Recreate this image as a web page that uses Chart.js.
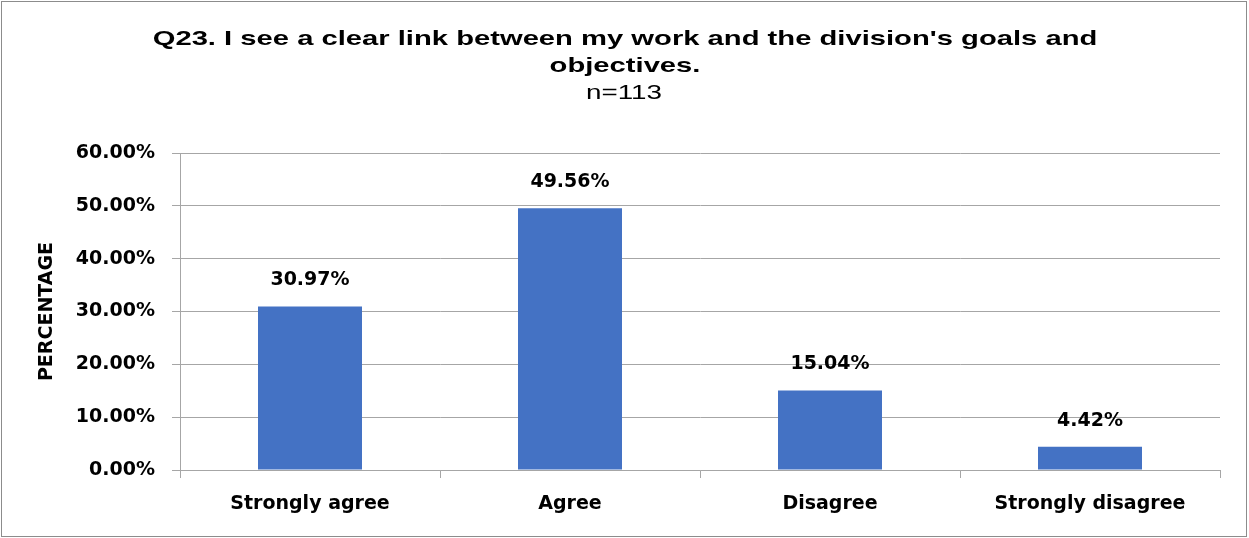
<!DOCTYPE html>
<html>
<head>
<meta charset="utf-8">
<script src="https://cdn.jsdelivr.net/npm/chart.js@4"></script>
<style>
  body { margin: 0; background: #fff; }
  #wrap { width: 1249px; height: 538px; position: relative; }
</style>
</head>
<body>
<div id="wrap"><canvas id="myChart"></canvas></div>
<script>
const categories = ["Strongly agree", "Agree", "Disagree", "Strongly disagree"];
const percentages = [30.97, 49.56, 15.04, 4.42];
const yTicks = [0, 10, 20, 30, 40, 50, 60];
const titleLines = ["Q23. I see a clear link between my work and the division's goals and", "objectives."];
const subtitleText = "n=113";

const gridColor = "#a6a6a6";
const labelFont = "'DejaVu Sans'";

// the source picture is stretched sideways, so the title text is too
function wideText(ctx, text, x, y) {
    ctx.save();
    ctx.translate(x, y);
    ctx.scale(1.39, 1);
    ctx.fillText(text, 0, 0);
    ctx.restore();
}

// draws the outer frame, titles and the value labels
const decorations = {
    id: "decorations",
    afterDraw(chart) {
        const ctx = chart.ctx;
        ctx.save();
        ctx.strokeStyle = "#8c8c8c";
        ctx.lineWidth = 1;
        ctx.strokeRect(1.5, 1.5, 1245, 535);

        ctx.fillStyle = "#000";
        ctx.textAlign = "center";
        ctx.textBaseline = "middle";
        ctx.font = "bold 21px 'Liberation Sans'";
        wideText(ctx, titleLines[0], 625, 39);
        wideText(ctx, titleLines[1], 625, 66);
        ctx.font = "20px 'Liberation Sans'";
        wideText(ctx, subtitleText, 624, 93);

        const meta = chart.getDatasetMeta(0);
        ctx.font = "bold 19px " + labelFont;
        meta.data.forEach((bar, i) => {
            ctx.fillText(percentages[i].toFixed(2) + "%", bar.x, bar.y - 26);
        });
        ctx.restore();
    },
};

const config = {
    type: "bar",
    data: {
        labels: categories,
        datasets: [{
            data: percentages,
            backgroundColor: "#4472c4",
            barPercentage: 0.4,
            categoryPercentage: 1,
        }],
    },
    options: {
        responsive: true,
        maintainAspectRatio: false,
        animation: false,
        layout: {
            padding: { top: 153, right: 29, bottom: 0, left: 36 },
        },
        plugins: {
            legend: { display: false },
            title: { display: false },
            tooltip: { enabled: false },
        },
        scales: {
            x: {
                afterFit: (s) => { s.height = 68; },
                grid: {
                    offset: true,
                    drawOnChartArea: false,
                    drawTicks: true,
                    tickLength: 8,
                    color: gridColor,
                },
                border: { color: gridColor },
                ticks: {
                    color: "#000",
                    padding: 15,
                    font: { family: labelFont, weight: "bold", size: 19 },
                },
            },
            y: {
                min: 0,
                max: 60,
                afterFit: (s) => { s.width = 144; },
                afterBuildTicks: (s) => { s.ticks = yTicks.map((v) => ({ value: v })); },
                grid: {
                    color: gridColor,
                    tickLength: 8,
                },
                border: { color: gridColor },
                ticks: {
                    color: "#000",
                    padding: 17,
                    font: { family: labelFont, weight: "bold", size: 19 },
                    callback: (v) => v.toFixed(2) + "%",
                },
                title: {
                    display: true,
                    text: "PERCENTAGE",
                    color: "#000",
                    padding: 0,
                    font: { family: labelFont, weight: "bold", size: 19 },
                },
            },
        },
    },
    plugins: [decorations],
};

const ctx = document.getElementById("myChart").getContext("2d");
const barChart = new Chart(ctx, config);
</script>
</body>
</html>
